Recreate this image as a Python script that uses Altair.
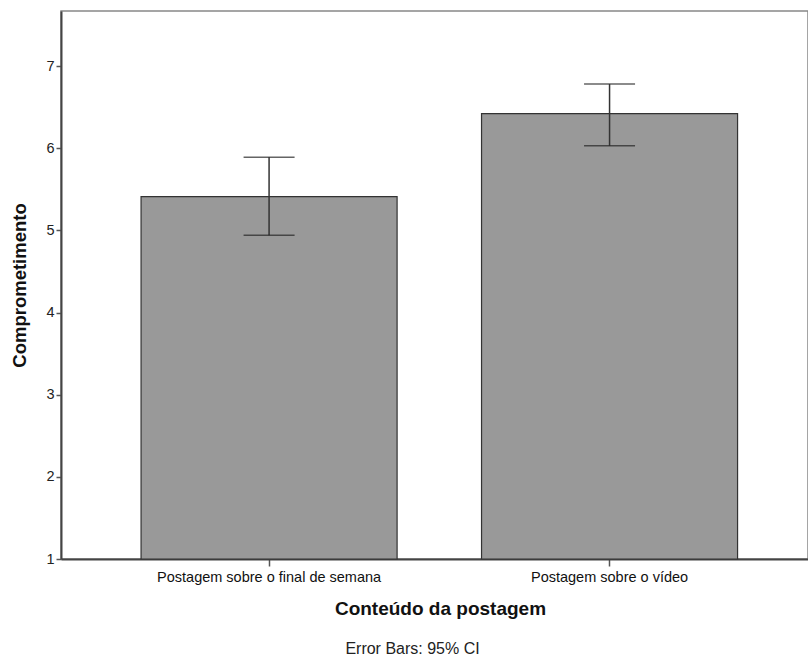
import altair as alt
import pandas as pd

# Mean engagement by post content, with 95% confidence intervals
categories = ["Postagem sobre o final de semana", "Postagem sobre o vídeo"]
means = [5.41, 6.42]
ci_low = [4.94, 6.03]
ci_high = [5.89, 6.78]

df = pd.DataFrame({
    "conteudo": categories,
    "media": means,
    "lo": ci_low,
    "hi": ci_high,
})

FONT = "Liberation Sans"
Y_MIN = 1

x_enc = alt.X(
    "conteudo:N",
    sort=categories,
    scale=alt.Scale(paddingInner=0.248, paddingOuter=0.221, align=0.532),
    axis=alt.Axis(
        title="Conteúdo da postagem",
        titleFont=FONT,
        titleFontSize=19,
        titleFontWeight="bold",
        titleColor="#111",
        titlePadding=16,
        titleX=379,
        labelFont=FONT,
        labelFontSize=14.5,
        labelColor="#111",
        labelAngle=0,
        labelPadding=4,
        labelLimit=0,
        tickSize=7,
        tickColor="#555",
        tickWidth=1.5,
        domainColor="#444",
        domainWidth=2,
    ),
)

y_scale = alt.Scale(domain=[Y_MIN, 7.67], nice=False, zero=False)

bars = alt.Chart(df).mark_bar(
    color="#999999", stroke="#333333", strokeWidth=1.2
).encode(
    x=x_enc,
    y=alt.Y(
        "media:Q",
        scale=y_scale,
        axis=alt.Axis(
            title="Comprometimento",
            titleFont=FONT,
            titleFontSize=18.5,
            titleFontWeight="bold",
            titleColor="#111",
            titlePadding=16,
            values=[1, 2, 3, 4, 5, 6, 7],
            format="d",
            grid=False,
            labelFont=FONT,
            labelFontSize=14.5,
            labelColor="#222",
            labelPadding=2,
            tickSize=5,
            tickColor="#555",
            tickWidth=1.5,
            domainColor="#444",
            domainWidth=2,
        ),
    ),
    y2=alt.datum(Y_MIN),
)

whisker = alt.Chart(df).mark_rule(color="#333333", strokeWidth=1.5).encode(
    x=alt.X("conteudo:N", sort=categories),
    y=alt.Y("lo:Q", scale=y_scale),
    y2="hi:Q",
)

cap_lo = alt.Chart(df).mark_tick(color="#222222", thickness=1.5, size=51).encode(
    x=alt.X("conteudo:N", sort=categories),
    y=alt.Y("lo:Q", scale=y_scale),
)

cap_hi = alt.Chart(df).mark_tick(color="#222222", thickness=1.5, size=51).encode(
    x=alt.X("conteudo:N", sort=categories),
    y=alt.Y("hi:Q", scale=y_scale),
)

chart = alt.layer(bars, whisker, cap_lo, cap_hi).properties(
    width=747,
    height=548,
    padding={"left": 61, "top": 11, "right": 0, "bottom": 98},
    autosize=alt.AutoSizeParams(type="none"),
    title=alt.TitleParams(
        "Error Bars: 95% CI",
        orient="bottom",
        anchor="middle",
        font=FONT,
        fontSize=16,
        fontWeight="normal",
        color="#222",
        offset=22,
        dx=-22,
    ),
).configure_view(
    stroke="#888888", strokeWidth=1.5
)

chart.save("out.html", embed_options={"renderer": "svg", "actions": False})
